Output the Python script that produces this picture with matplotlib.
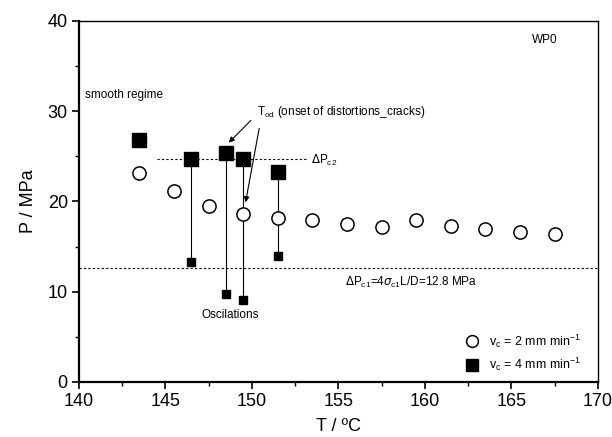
import matplotlib
matplotlib.use("Agg")
import matplotlib.pyplot as plt
from matplotlib.lines import Line2D

plt.rcParams['font.family'] = ['Liberation Sans', 'DejaVu Sans']

# data
T_slow = [143.5, 145.5, 147.5, 149.5, 151.5, 153.5, 155.5, 157.5, 159.5, 161.5, 163.5, 165.5, 167.5]
P_slow = [23.1, 21.2, 19.5, 18.6, 18.2, 17.9, 17.5, 17.2, 17.9, 17.3, 17.0, 16.6, 16.4]

T_fast_top = [143.5, 146.5, 148.5, 149.5, 151.5]
P_fast_top = [26.8, 24.7, 25.4, 24.7, 23.3]

T_osc = [146.5, 148.5, 149.5, 151.5]
P_osc_top = [24.7, 25.4, 24.7, 23.3]
P_osc_low = [13.3, 9.8, 9.1, 14.0]

dPc1 = 12.6
dPc2 = 24.7
dPc2_range = [144.5, 153.2]

xticks = [140, 145, 150, 155, 160, 165, 170]
yticks = [0, 10, 20, 30, 40]

fig = plt.figure(figsize=(6.12, 4.37), dpi=100)
ax = fig.add_axes([0.129, 0.126, 0.848, 0.826])

# critical pressure lines
ax.axhline(dPc1, color='black', lw=0.8, ls=(0, (2, 2)))
ax.plot(dPc2_range, [dPc2, dPc2], color='black', lw=0.8, ls=(0, (2, 2)))

# oscillation ranges
for t, p0, p1 in zip(T_osc, P_osc_top, P_osc_low):
    ax.plot([t, t], [p0, p1], color='black', lw=0.8)
ax.plot(T_osc, P_osc_low, 's', color='black', ms=5.5, ls='none')

ax.plot(T_slow, P_slow, 'o', mfc='white', mec='black', mew=1.1, ms=9.5, ls='none')
ax.plot(T_fast_top, P_fast_top, 's', color='black', ms=9.5, ls='none')

ax.set_xlim(140, 170)
ax.set_ylim(0, 40)
ax.set_xticks(xticks)
ax.set_yticks(yticks)
ax.set_xticks([142.5, 147.5, 152.5, 157.5, 162.5, 167.5], minor=True)
ax.set_yticks([5, 15, 25, 35], minor=True)
ax.tick_params(which='major', direction='out', length=5, width=1.2, labelsize=13, pad=3)
ax.tick_params(which='minor', direction='out', length=3, width=1.0)

for s in ['left', 'bottom']:
    ax.spines[s].set_linewidth(1.6)
for s in ['top', 'right']:
    ax.spines[s].set_linewidth(1.0)

ax.set_xlabel('T / ºC', fontsize=13, labelpad=6)
ax.set_ylabel('P / MPa', fontsize=13, labelpad=8)

fs = 8.5
ax.text(140.35, 31.8, 'smooth regime', fontsize=fs, va='center')
ax.text(166.2, 37.9, 'WP0', fontsize=fs, va='center')
ax.text(153.4, 24.5, r'$\Delta$P$_{\mathregular{c2}}$', fontsize=fs, va='center')
ax.text(155.4, 11.0, r'$\Delta$P$_{\mathregular{c1}}$=4$\sigma_{\mathregular{c1}}$L/D=12.8 MPa', fontsize=fs, va='center')
ax.text(147.1, 7.4, 'Oscilations', fontsize=fs, va='center')
ax.text(150.3, 29.9, r'T$_{\mathregular{od}}$ (onset of distortions_cracks)', fontsize=fs, va='center')

ax.annotate('', xy=(148.55, 26.3), xytext=(150.05, 29.2),
            arrowprops=dict(arrowstyle='-|>', color='black', lw=0.8, mutation_scale=8))
ax.annotate('', xy=(149.6, 19.6), xytext=(150.45, 28.4),
            arrowprops=dict(arrowstyle='-|>', color='black', lw=0.8, mutation_scale=8))

handles = [Line2D([], [], marker='o', mfc='white', mec='black', mew=1.1, ms=8.5, ls='none'),
           Line2D([], [], marker='s', color='black', ms=8, ls='none')]
labels = [r'v$_{\mathregular{c}}$ = 2 mm min$^{\mathregular{-1}}$',
          r'v$_{\mathregular{c}}$ = 4 mm min$^{\mathregular{-1}}$']
ax.legend(handles, labels, loc='lower right', frameon=False, fontsize=9,
          handletextpad=0.4, borderaxespad=0.3, labelspacing=0.5,
          bbox_to_anchor=(0.985, 0.0))

fig.savefig('out.png', dpi=100)
